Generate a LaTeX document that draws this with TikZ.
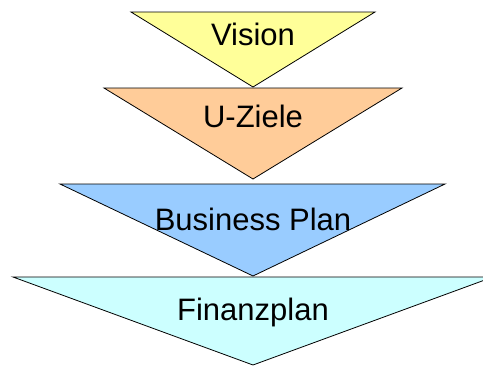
\documentclass[tikz,border=0pt]{standalone}
\usepackage{fontspec}
\setmainfont{Liberation Sans}
\usepackage{tikz}
\usetikzlibrary{positioning}
\definecolor{visioncol}{HTML}{FFFF99}
\definecolor{zielecol}{HTML}{FFCC99}
\definecolor{plancol}{HTML}{99CCFF}
\definecolor{finanzcol}{HTML}{CCFFFF}
\tikzset{
 funnel/.style = {
    draw=black, line width=0.8pt, line join=miter},
 title/.style = {
    anchor=base, inner sep=0pt,
    font=\fontsize{31}{36}\selectfont},
}

\begin{document}
\begin{tikzpicture}[x=1pt, y=-1pt]
    \clip (0,0) rectangle (483,367);

    % Triangles, from top to bottom
    \draw [funnel, fill=visioncol]  (131,12)  -- (375,12)  -- (253,87)  -- cycle;
    \draw [funnel, fill=zielecol]   (104,88)  -- (402,88)  -- (253,179) -- cycle;
    \draw [funnel, fill=plancol]    (60,184)  -- (445,184) -- (253,276) -- cycle;
    \draw [funnel, fill=finanzcol]  (13,277)  -- (493,277) -- (253,365) -- cycle;

    % Place nodes
    \node [title] (vision) at (253,45)  {Vision};
    \node [title] (uziele) at (253,127) {U-Ziele};
    \node [title] (bplan)  at (253,230) {Business Plan};
    \node [title] (fplan)  at (253,320) {Finanzplan};
\end{tikzpicture}
\end{document}
